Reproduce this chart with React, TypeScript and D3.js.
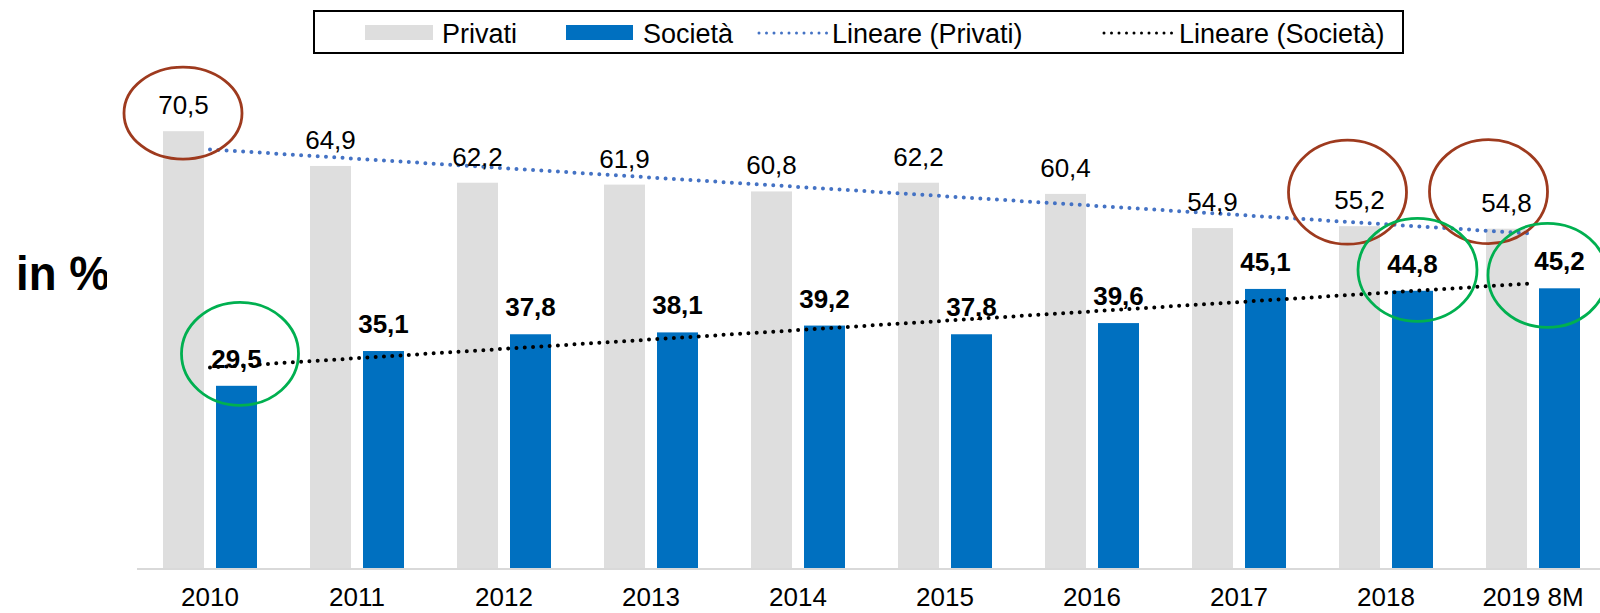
import React from 'react';
import * as d3 from 'd3';

const categories = ['2010', '2011', '2012', '2013', '2014', '2015', '2016', '2017', '2018', '2019 8M'];
const privati = [70.5, 64.9, 62.2, 61.9, 60.8, 62.2, 60.4, 54.9, 55.2, 54.8];
const societa = [29.5, 35.1, 37.8, 38.1, 39.2, 37.8, 39.6, 45.1, 44.8, 45.2];
const seriesKeys = ['Privati', 'Società'];
const legendLabels = ['Privati', 'Società', 'Lineare (Privati)', 'Lineare (Società)'];
const yAxisTitle = 'in %';

// highlighted points (hand-drawn ellipses in the original)
const highlights = [
  { cat: '2010', series: 'Privati', dx: -0.5, dy: -18, rx: 59, ry: 46 },
  { cat: '2018', series: 'Privati', dx: -12, dy: -34, rx: 59, ry: 52 },
  { cat: '2019 8M', series: 'Privati', dx: -18, dy: -37, rx: 59, ry: 52 },
  { cat: '2010', series: 'Società', dx: 3.5, dy: -32, rx: 58.5, ry: 51.5 },
  { cat: '2018', series: 'Società', dx: 5, dy: -21, rx: 59.5, ry: 51.5 },
  { cat: '2019 8M', series: 'Società', dx: -12, dy: -13, rx: 59.5, ry: 52 },
];

const W = 1600;
const H = 613;
const FONT = "'Liberation Sans', Arial, Helvetica, sans-serif";
const GRAY = '#DEDEDE';
const BLUE = '#0070C0';
const TREND_BLUE = '#4472C4';
const BROWN = '#9E3A1E';
const GREEN = '#00B050';

const locale = d3.formatLocale({ decimal: ',', thousands: '.', grouping: [3], currency: ['', '€'] });
const fmt = locale.format('.1f');

function regression(vals: number[]) {
  const n = vals.length;
  const xs = vals.map((_, i) => i);
  const mx = d3.mean(xs) as number;
  const my = d3.mean(vals) as number;
  let sxy = 0;
  let sxx = 0;
  for (let i = 0; i < n; i++) {
    sxy += (xs[i] - mx) * (vals[i] - my);
    sxx += (xs[i] - mx) * (xs[i] - mx);
  }
  const b = sxy / sxx;
  const a = my - b * mx;
  return (i: number) => a + b * i;
}

export default function App() {
  const x0 = d3.scaleBand<string>().domain(categories).range([136.5, 1606.5]).padding(0);
  const x1 = d3.scaleBand<string>().domain(seriesKeys).range([26.5, 120.5]).paddingInner(12 / 53).paddingOuter(0);
  const y = d3.scaleLinear().domain([0, 80]).range([569, 569 - 80 * 6.21]);

  const valuesOf: Record<string, number[]> = { Privati: privati, 'Società': societa };
  const colorOf: Record<string, string> = { Privati: GRAY, 'Società': BLUE };

  const center = (c: string) => (x0(c) as number) + x0.bandwidth() / 2;
  const barX = (c: string, s: string) => (x0(c) as number) + (x1(s) as number);
  const bw = x1.bandwidth();

  const trendP = regression(privati);
  const trendS = regression(societa);
  const trendPts = (f: (i: number) => number) => [0, categories.length - 1].map((i) => ({ i, v: f(i) }));
  const trendPath = (f: (i: number) => number) =>
    d3
      .line<{ i: number; v: number }>()
      .x((d) => center(categories[d.i]))
      .y((d) => y(d.v))(trendPts(f)) as string;

  const baseY = y(0);

  return (
    <div style={{ position: 'absolute', left: 0, top: 0, width: W, height: H, background: '#fff' }}>
      <svg width={W} height={H} viewBox={`0 0 ${W} ${H}`} style={{ display: 'block', fontFamily: FONT }}>
        <defs>
          <clipPath id="titleClip">
            <rect x={0} y={0} width={107} height={H} />
          </clipPath>
        </defs>
        <rect x={0} y={0} width={W} height={H} fill="#fff" />

        {/* bars */}
        {seriesKeys.map((s) =>
          categories.map((c, i) => {
            const v = valuesOf[s][i];
            return (
              <rect
                key={s + c}
                x={barX(c, s)}
                y={y(v)}
                width={bw}
                height={baseY - y(v)}
                fill={colorOf[s]}
              />
            );
          })
        )}

        {/* axis line */}
        <line x1={137} x2={W} y1={baseY} y2={baseY} stroke="#D9D9D9" strokeWidth={2} />

        {/* category labels */}
        {categories.map((c) => (
          <text key={c} x={center(c)} y={606} textAnchor="middle" fontSize={26} fill="#000">
            {c}
          </text>
        ))}

        {/* trend lines */}
        <path d={trendPath(trendP)} fill="none" stroke={TREND_BLUE} strokeWidth={4} strokeDasharray="0 8.3" strokeLinecap="round" />
        <path d={trendPath(trendS)} fill="none" stroke="#000" strokeWidth={4} strokeDasharray="0 8.3" strokeLinecap="round" />

        {/* data labels */}
        {categories.map((c, i) => (
          <text
            key={'lp' + c}
            x={barX(c, 'Privati') + bw / 2}
            y={y(privati[i]) - 17}
            textAnchor="middle"
            fontSize={26}
            fill="#000"
          >
            {fmt(privati[i])}
          </text>
        ))}
        {categories.map((c, i) => (
          <text
            key={'ls' + c}
            x={barX(c, 'Società') + bw / 2}
            y={y(societa[i]) - 18}
            textAnchor="middle"
            fontSize={26}
            fontWeight="bold"
            fill="#000"
          >
            {fmt(societa[i])}
          </text>
        ))}

        {/* highlight ellipses */}
        {highlights.map((h, k) => {
          const idx = categories.indexOf(h.cat);
          const v = valuesOf[h.series][idx];
          return (
            <ellipse
              key={'e' + k}
              cx={barX(h.cat, h.series) + bw / 2 + h.dx}
              cy={y(v) + h.dy}
              rx={h.rx}
              ry={h.ry}
              fill="none"
              stroke={h.series === 'Privati' ? BROWN : GREEN}
              strokeWidth={2.8}
            />
          );
        })}

        {/* y title (cut off at the plot edge, as in the original) */}
        <g clipPath="url(#titleClip)">
          <text
            x={0}
            y={0}
            transform="translate(16,290) scale(0.95,1)"
            fontSize={48}
            fontWeight="bold"
            fill="#000"
          >
            {yAxisTitle}
          </text>
        </g>

        {/* legend */}
        <g>
          <rect x={314} y={11} width={1089} height={42} fill="#fff" stroke="#000" strokeWidth={2} />
          <rect x={365} y={25} width={68} height={15} fill={GRAY} />
          <text x={442} y={43} fontSize={27} fill="#000">{legendLabels[0]}</text>
          <rect x={566} y={25} width={67} height={15} fill={BLUE} />
          <text x={643} y={43} fontSize={27} fill="#000">{legendLabels[1]}</text>
          <line x1={759} x2={827} y1={33} y2={33} stroke={TREND_BLUE} strokeWidth={3} strokeDasharray="0 7.5" strokeLinecap="round" />
          <text x={832} y={43} fontSize={27} fill="#000">{legendLabels[2]}</text>
          <line x1={1104} x2={1172} y1={33} y2={33} stroke="#000" strokeWidth={3} strokeDasharray="0 7.5" strokeLinecap="round" />
          <text x={1179} y={43} fontSize={27} fill="#000">{legendLabels[3]}</text>
        </g>
      </svg>
    </div>
  );
}
